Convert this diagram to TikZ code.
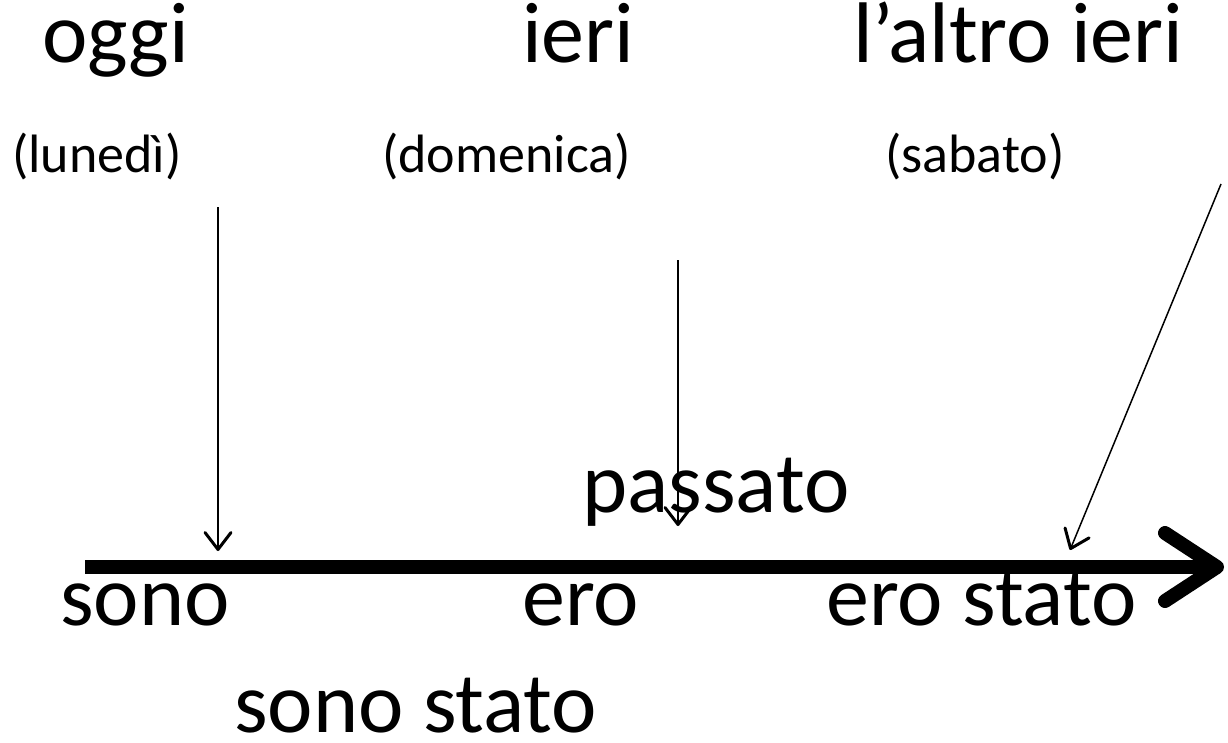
\documentclass[tikz,border=0pt]{standalone}
\usepackage{fontspec}
\setmainfont{Carlito}
\usetikzlibrary{arrows.meta}

\begin{document}
\begin{tikzpicture}[x=1pt, y=-1pt,
    big/.style={anchor=base west, inner sep=0pt, font=\fontsize{86}{100}\selectfont},
    small/.style={anchor=base west, inner sep=0pt, font=\fontsize{54}{64}\selectfont},
    pointer/.style={line width=1.5pt, -{Straight Barb[length=17pt, width=26pt, line width=3pt, round]}},
    timeline/.style={line width=14pt, -{Straight Barb[length=52pt, width=68pt, round]}}]
    \useasboundingbox (0,0) rectangle (1228,742);

    % Days on top
    \node[big] (oggi) at (42, 62) {oggi};
    \node[big] (ieri) at (522, 62) {ieri};
    \node[big] (altro) at (853, 62) {l’altro ieri};

    \node[small] (lun) at (12, 172) {(lunedì)};
    \node[small] (dom) at (382, 172) {(domenica)};
    \node[small] (sab) at (885, 172) {(sabato)};

    % Time line
    \coordinate (start) at (85, 567);
    \coordinate (stop) at (1224, 567);
    \draw[timeline] (start) -- (stop);

    % Pointers onto the line
    \coordinate (p1) at (218, 207);
    \coordinate (q1) at (218, 551);
    \coordinate (p2) at (678, 260);
    \coordinate (q2) at (678, 526);
    \coordinate (p3) at (1221, 184);
    \coordinate (q3) at (1070, 550);
    \draw[pointer] (p1) -- (q1);
    \draw[pointer] (p2) -- (q2);
    \draw[pointer] (p3) -- (q3);

    % Tenses
    \node[big] (passato) at (582, 512) {passato};
    \node[big] (sono) at (60, 625) {sono};
    \node[big] (ero) at (522, 625) {ero};
    \node[big] (erostato) at (826, 625) {ero stato};
    \node[big] (sonostato) at (234, 732) {sono stato};
\end{tikzpicture}
\end{document}
